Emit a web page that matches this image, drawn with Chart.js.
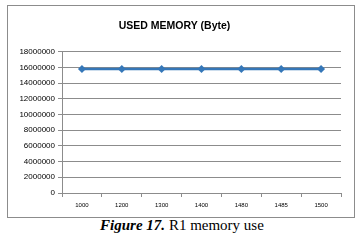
<!DOCTYPE html>
<html>
<head>
<meta charset="utf-8">
<script src="https://cdn.jsdelivr.net/npm/chart.js@4.4.0/dist/chart.umd.min.js"></script>
<style>
  html, body { margin:0; padding:0; background:#fff; }
  body { width:364px; height:242px; position:relative; overflow:hidden; }
  #box { position:absolute; left:7px; top:5px; width:346px; height:211px; border:1px solid #8c8c8c; }
  #box canvas { position:absolute; left:0; top:0; }
  #caption { position:absolute; left:0; top:217px; width:364px; text-align:center;
             font-family:"Liberation Serif","DejaVu Serif",serif; font-size:15px; color:#000; }
  #caption b { font-style:italic; }
</style>
</head>
<body>
<div id="box"><canvas id="memChart" width="346" height="211"></canvas></div>
<div id="caption"><b>Figure 17.</b> R1 memory use</div>
<script>
// categories (x axis) and series values
var CATEGORIES = ["1000", "1200", "1300", "1400", "1480", "1485", "1500"];
var USED_MEMORY = [15800000, 15800000, 15800000, 15800000, 15800000, 15800000, 15800000];
var Y_MIN = 0, Y_MAX = 18000000, Y_STEP = 2000000;

var BLUE = "#3577b8";
var GRID = "#8c8c8c";

var ctx = document.getElementById("memChart").getContext("2d");
new Chart(ctx, {
  type: "line",
  data: {
    labels: CATEGORIES,
    datasets: [{
      label: "Used memory",
      data: USED_MEMORY,
      borderColor: BLUE,
      backgroundColor: BLUE,
      borderWidth: 2.5,
      pointStyle: "rectRot",
      pointRadius: 4,
      pointBorderWidth: 0,
      tension: 0
    }]
  },
  options: {
    responsive: false,
    animation: false,
    layout: { padding: { left: 0, right: 13, top: 0, bottom: 0 } },
    plugins: {
      legend: { display: false },
      tooltip: { enabled: false },
      title: {
        display: true,
        text: "USED MEMORY (Byte)",
        color: "#000",
        font: { family: "Liberation Sans", size: 10.5, weight: "bold" },
        padding: { top: 14, bottom: 19 }
      }
    },
    scales: {
      x: {
        offset: true,
        grid: { offset: true, drawOnChartArea: false, drawTicks: true, tickLength: 4, color: GRID },
        border: { color: GRID },
        ticks: { color: "#000", font: { family: "Liberation Sans", size: 6 }, padding: 5, maxRotation: 0 },
        afterFit: function(s){ s.height = 24; }
      },
      y: {
        min: Y_MIN, max: Y_MAX,
        grid: { color: GRID, tickLength: 4 },
        border: { color: GRID },
        ticks: {
          stepSize: Y_STEP, color: "#000", font: { family: "Liberation Sans", size: 8 }, padding: 3,
          callback: function(v){ return String(v); }
        },
        afterFit: function(s){ s.width = 54; }
      }
    }
  }
});
</script>
</body>
</html>
